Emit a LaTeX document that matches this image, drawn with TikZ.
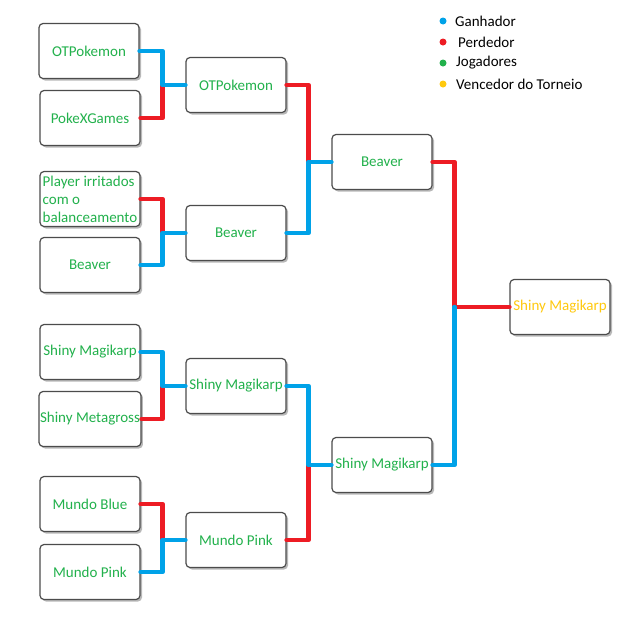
\documentclass[tikz,border=0pt]{standalone}
\usepackage{fontspec}
\setmainfont{Carlito}
\usetikzlibrary{shadows}
\definecolor{azul}{RGB}{0,162,232}
\definecolor{vermelho}{RGB}{237,28,36}
\definecolor{verde}{RGB}{34,177,76}
\definecolor{amarelo}{RGB}{255,201,14}

\begin{document}
\begin{tikzpicture}[x=1pt,y=-1pt,line cap=round,line join=round]
	\tikzstyle{caixa}=[draw=black!70,line width=1.2pt,fill=white,rounded corners=4pt,minimum width=100pt,minimum height=55pt,inner sep=1pt,text=verde,font=\fontsize{15}{18}\selectfont,drop shadow={shadow xshift=2pt,shadow yshift=-2pt,fill=black!55}];
	\tikzstyle{ganha}=[azul,line width=4.5pt];
	\tikzstyle{perde}=[vermelho,line width=4.5pt];
	\tikzstyle{ponto}=[circle,inner sep=0pt,minimum size=7pt];
	\tikzstyle{leg}=[anchor=west,font=\fontsize{15}{17}\selectfont,inner sep=0pt];
	\useasboundingbox[fill=white] (0,0) rectangle (636,619);
	%% primeira rodada
	\node[caixa] (otp1) at (89,51)  {OTPokemon};
	\node[caixa] (pxg1) at (90,118) {PokeXGames};
	\node[caixa,align=left] (pir1) at (90,199) {Player irritados\\com o\\balanceamento};
	\node[caixa] (bea1) at (90,265) {Beaver};
	\node[caixa] (smk1) at (90,352) {Shiny Magikarp};
	\node[caixa] (smg1) at (90,419) {Shiny Metagross};
	\node[caixa] (mbl1) at (90,504) {Mundo Blue};
	\node[caixa] (mpk1) at (90,572) {Mundo Pink};
	%% segunda rodada
	\node[caixa] (otp2) at (236,85)  {OTPokemon};
	\node[caixa] (bea2) at (236,233) {Beaver};
	\node[caixa] (smk2) at (236,386) {Shiny Magikarp};
	\node[caixa] (mpk2) at (236,540) {Mundo Pink};
	%% semifinal
	\node[caixa] (bea3) at (382,162) {Beaver};
	\node[caixa] (smk3) at (382,465) {Shiny Magikarp};
	%% final
	\node[caixa,text=amarelo] (fin) at (560,307) {Shiny Magikarp};
	%% juncoes
	\coordinate (j1) at ([xshift=-23pt]otp2.west);
	\coordinate (j2) at ([xshift=-23pt]bea2.west);
	\coordinate (j3) at ([xshift=-23pt]smk2.west);
	\coordinate (j4) at ([xshift=-23pt]mpk2.west);
	\coordinate (j5) at ([xshift=-23pt]bea3.west);
	\coordinate (j6) at ([xshift=-23pt]smk3.west);
	\coordinate (j7) at ([xshift=-55pt]fin.west);
	%% perdedores
	\draw[perde] (pxg1.east) -| (j1);
	\draw[perde] (pir1.east) -| (j2);
	\draw[perde] (smg1.east) -| (j3);
	\draw[perde] (mbl1.east) -| (j4);
	\draw[perde] (otp2.east) -| (j5);
	\draw[perde] (mpk2.east) -| (j6);
	\draw[perde] (bea3.east) -| (j7) -- (fin.west);
	%% ganhadores
	\draw[ganha] (otp1.east) -| (j1) -- (otp2.west);
	\draw[ganha] (bea1.east) -| (j2) -- (bea2.west);
	\draw[ganha] (smk1.east) -| (j3) -- (smk2.west);
	\draw[ganha] (mpk1.east) -| (j4) -- (mpk2.west);
	\draw[ganha] (bea2.east) -| (j5) -- (bea3.west);
	\draw[ganha] (smk2.east) -| (j6) -- (smk3.west);
	\draw[ganha] (smk3.east) -| (j7);
	%% legenda
	\node[ponto,fill=azul]     (p1) at (443,21) {};
	\node[ponto,fill=vermelho] (p2) at (443,42) {};
	\node[ponto,fill=verde]    (p3) at (443,63) {};
	\node[ponto,fill=amarelo]  (p4) at (443,84) {};
	\node[leg] (l1) at (455,21) {Ganhador};
	\node[leg] (l2) at (458,42) {Perdedor};
	\node[leg] (l3) at (456,63) {Jogadores};
	\node[leg] (l4) at (456,84) {Vencedor do Torneio};
\end{tikzpicture}
\end{document}
